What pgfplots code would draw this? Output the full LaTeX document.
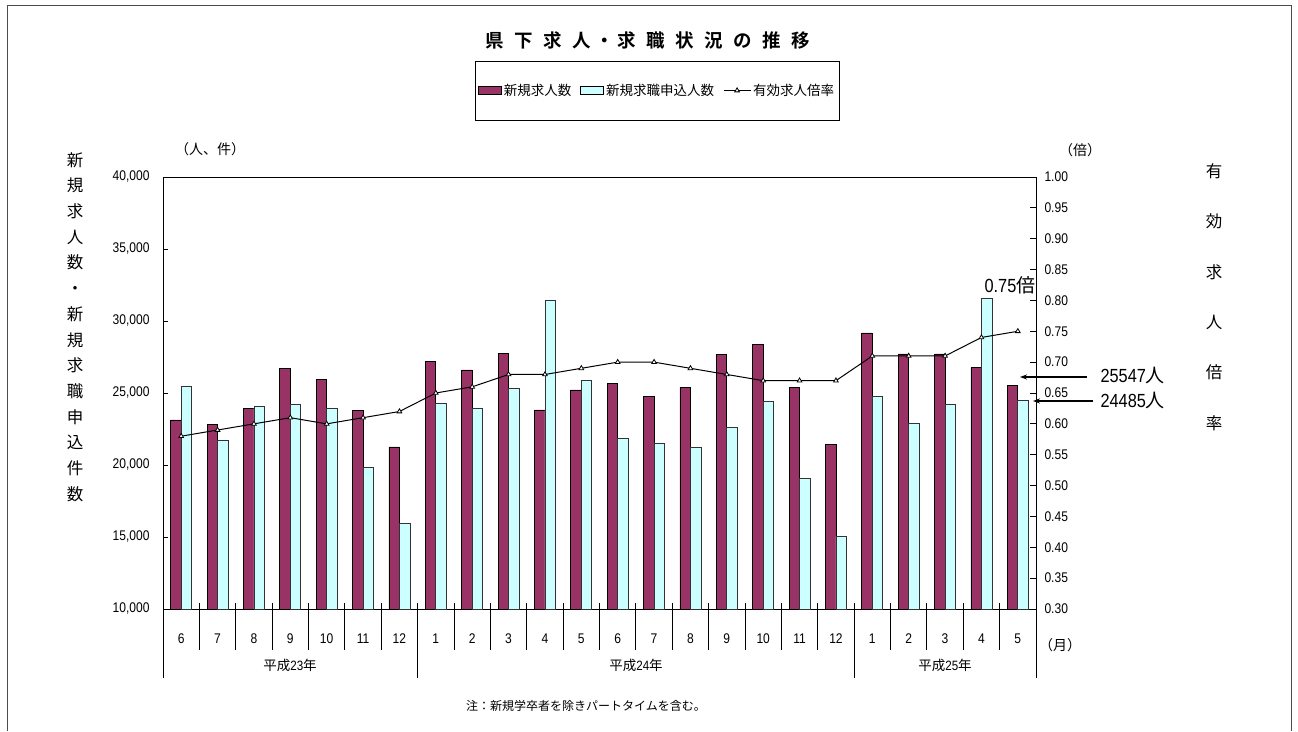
\documentclass[border=0pt]{standalone}
\usepackage{fontspec}
\usepackage{pgfplots}
\pgfplotsset{compat=1.18}
\usetikzlibrary{arrows.meta}
\setmainfont{Noto Sans CJK JP}[BoldFont={Noto Sans CJK JP Bold}]
\newfontfamily\nf[FakeStretch=0.86]{Liberation Sans}
\definecolor{maroon}{HTML}{993366}
\definecolor{lcyan}{HTML}{CCFFFF}
\pgfplotsset{
  mybarlegend/.style={legend image code/.code={\draw[##1] (0pt,-4pt) rectangle (23pt,4pt);}},
  mylinelegend/.style={legend image code/.code={\draw[mark repeat=2,mark phase=2,##1] plot coordinates {(0pt,0pt) (13.5pt,0pt) (27pt,0pt)};}},
}
\pgfplotstableread{
x h c r
0 23125 25490 0.58
1 22830 21740 0.59
2 23900 24100 0.60
3 26690 24190 0.61
4 25970 23900 0.60
5 23800 19860 0.61
6 21250 15930 0.62
7 27180 24300 0.65
8 26600 23940 0.66
9 27750 25300 0.68
10 23820 31410 0.68
11 25210 25880 0.69
12 25670 21830 0.70
13 24790 21530 0.70
14 25390 21250 0.69
15 27660 22620 0.68
16 28360 24400 0.67
17 25390 19050 0.67
18 21440 15020 0.67
19 29170 24790 0.71
20 27710 22920 0.71
21 27710 24190 0.71
22 26760 31600 0.74
23 25547 24485 0.75
}\datatable
\begin{document}
\begin{tikzpicture}
\path[use as bounding box] (0pt,0pt) rectangle (1298pt,731pt);
% frame
\draw[line width=1pt, color=black!70] (7pt,0pt) -- (7pt,725pt) -- (1291pt,725pt) -- (1291pt,0pt);
% title
\node[font=\bfseries\fontsize{18.5}{18.5}\selectfont] at (648pt,691pt)
 {県\hspace{10.5pt}下\hspace{10.5pt}求\hspace{10.5pt}人\hspace{4pt}・\hspace{4pt}求\hspace{10.5pt}職\hspace{10.5pt}状\hspace{10.5pt}況\hspace{10.5pt}の\hspace{10.5pt}推\hspace{10.5pt}移};
\begin{axis}[
  at={(163pt,122pt)}, anchor=south west,
  scale only axis, width=873pt, height=432pt,
  xmin=-0.5, xmax=23.5, ymin=10000, ymax=40000,
  ybar=0pt, bar width=10.5pt,
  axis line style={line width=0.9pt},
  xtick={0,...,23},
  xticklabels={6,7,8,9,10,11,12,1,2,3,4,5,6,7,8,9,10,11,12,1,2,3,4,5},
  major x tick style={draw=none},
  xticklabel style={anchor=center, yshift=-25pt, font=\nf\fontsize{14}{14}\selectfont},
  ytick={10000,15000,...,40000},
  ytick pos=left,
  scaled y ticks=false,
  major tick length=5pt,
  tick style={line width=0.8pt, black},
  /pgf/number format/assume math mode=true,
  yticklabel style={font=\nf\fontsize{14}{14}\selectfont, xshift=-10pt, /pgf/number format/fixed, /pgf/number format/1000 sep={,}},
  clip=true,
]
\addplot[fill=maroon, draw=black, line width=0.8pt] table[x=x, y=h] {\datatable};
\addplot[fill=lcyan, draw=black!80, line width=0.8pt] table[x=x, y=c] {\datatable};
\end{axis}
\begin{axis}[
  at={(163pt,122pt)}, anchor=south west,
  scale only axis, width=873pt, height=432pt,
  xmin=-0.5, xmax=23.5, ymin=0.30, ymax=1.00,
  axis x line=none, axis y line*=right,
  axis line style={line width=0.9pt},
  ytick={0.30,0.35,...,1.001},
  major tick length=6pt,
  tick style={line width=0.8pt, black},
  /pgf/number format/assume math mode=true,
  yticklabel style={font=\nf\fontsize{14}{14}\selectfont, xshift=5pt, /pgf/number format/fixed, /pgf/number format/fixed zerofill, /pgf/number format/precision=2},
  legend style={at={(axis description cs:0.5659,1.2002)}, anchor=center, draw=black, line width=0.8pt,
    inner xsep=3pt, inner ysep=21pt, font=\fontsize{13.5}{13.5}\selectfont,
    /tikz/every even column/.append style={column sep=7pt}},
  legend columns=3,
  legend cell align=left,
]
\addlegendimage{mybarlegend, fill=maroon, draw=black, line width=0.8pt}
\addlegendentry{新規求人数}
\addlegendimage{mybarlegend, fill=lcyan, draw=black, line width=0.8pt}
\addlegendentry{新規求職申込人数}
\addplot[mylinelegend, black, line width=1pt, mark=triangle*, mark size=2.7pt, mark options={fill=white, draw=black, line width=0.8pt}] table[x=x, y=r] {\datatable};
\addlegendentry{有効求人倍率}
\end{axis}
% category separators
\foreach \k in {1,2,3,4,5,6,8,9,10,11,12,13,14,15,16,17,18,20,21,22,23} {
  \draw[line width=0.8pt] ({163pt+\k*36.375pt},128pt) -- ({163pt+\k*36.375pt},81pt);
}
\foreach \k in {0,7,19,24} {
  \draw[line width=0.8pt] ({163pt+\k*36.375pt},128pt) -- ({163pt+\k*36.375pt},53pt);
}
% year labels
\node[font=\fontsize{13.5}{13.5}\selectfont] at (290pt,66pt) {平成{\nf 23}年};
\node[font=\fontsize{13.5}{13.5}\selectfont] at (636pt,66pt) {平成{\nf 24}年};
\node[font=\fontsize{13.5}{13.5}\selectfont] at (945pt,66pt) {平成{\nf 25}年};
\node[font=\fontsize{14}{14}\selectfont] at (1060pt,86pt) {（月）};
% axis unit labels
\node[font=\fontsize{14}{14}\selectfont] at (210pt,582pt) {（人、件）};
\node[font=\fontsize{14}{14}\selectfont] at (1080pt,581pt) {（倍）};
% vertical axis titles
\node[align=center, inner sep=0pt, font=\fontsize{16.5}{25.7}\selectfont] at (75pt,404pt)
 {新\\規\\求\\人\\数\\・\\新\\規\\求\\職\\申\\込\\件\\数};
\node[align=center, inner sep=0pt, font=\fontsize{16.5}{50.4}\selectfont] at (1214pt,434pt)
 {有\\効\\求\\人\\倍\\率};
% annotations
\node[font=\fontsize{19}{19}\selectfont] at (1010pt,446pt) {{\nf 0.75}倍};
\draw[line width=1.2pt, -{Stealth[length=7pt,width=5pt]}] (1087pt,354pt) -- (1020pt,354pt);
\draw[line width=1.2pt, -{Stealth[length=7pt,width=5pt]}] (1093pt,330pt) -- (1033pt,330pt);
\node[font=\fontsize{19}{19}\selectfont, anchor=west] at (1097pt,356pt) {{\nf 25547}人};
\node[font=\fontsize{19}{19}\selectfont, anchor=west] at (1097pt,331pt) {{\nf 24485}人};
% note
\node[font=\fontsize{12}{12}\selectfont] at (586pt,25pt) {注：新規学卒者を除きパートタイムを含む。};
\end{tikzpicture}
\end{document}
